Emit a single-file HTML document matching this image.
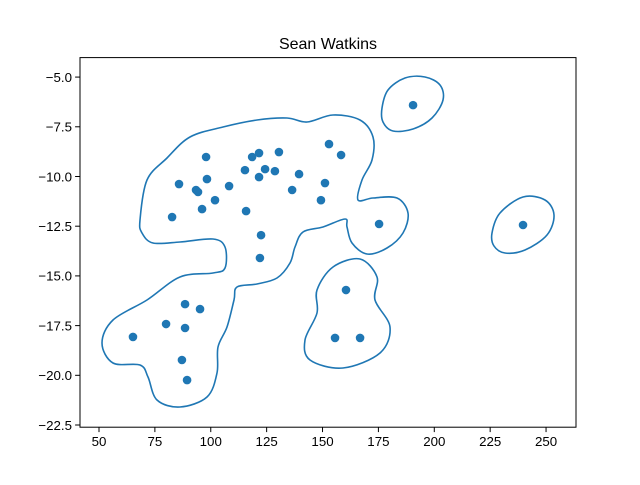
<!DOCTYPE html>
<html><head><meta charset="utf-8"><style>
body{margin:0;background:#fff}
svg text{font-family:"Liberation Sans","DejaVu Sans",sans-serif}
</style></head><body>
<svg id="chart" width="640" height="480" xmlns="http://www.w3.org/2000/svg">
<rect width="640" height="480" fill="#fff"/>
<text x="328" y="49" text-anchor="middle" font-size="16">Sean Watkins</text>
<g id="contours"></g>
<g id="points"></g>
<g id="axes"></g>
<rect x="80" y="57.6" width="496" height="369.6" fill="none" stroke="#000" stroke-width="1"/>
</svg>
<script>
const xs=[65.2,80,88.5,88.5,87.1,89.4,95.2,82.7,85.8,93.4,94.3,96.1,98.3,97.9,101.9,108.2,115.3,115.8,118.5,121.6,121.6,124.3,122.5,122,128.7,130.5,136.4,139.5,149.3,151.1,152.9,158.3,160.5,155.6,166.8,175.3,190.5,239.7];
const ys=[-18.07,-17.42,-16.42,-17.62,-19.23,-20.24,-16.67,-12.04,-10.38,-10.68,-10.78,-11.64,-10.13,-9.02,-11.19,-10.48,-9.68,-11.74,-9.02,-8.82,-10.03,-9.63,-12.95,-14.10,-9.73,-8.77,-10.68,-9.88,-11.19,-10.33,-8.37,-8.92,-15.71,-18.12,-18.12,-12.39,-6.41,-12.44];
const xTicks=[50,75,100,125,150,175,200,225,250];
const yTicks=[-5.0,-7.5,-10.0,-12.5,-15.0,-17.5,-20.0,-22.5];
const contourShapes=[
"140,220 147,180 167,158 190,137 223,127 257,120 287,118 307,122 333,115 360,120 373,137 372,160 362,180 358,200 373,198 397,198 408,213 403,233 387,248 367,254 352,243 347,227 345,219 323,227 303,232 295,247 290,263 277,278 257,284 237,287 234,300 227,327 218,347 217,373 207,397 180,407 157,400 148,377 140,365 113,363 102,343 113,320 147,300 180,277 213,273 225,268 225,247 213,239 180,242 153,243 142,233",
"360,259 377,277 375,300 390,327 380,353 343,368 310,360 305,340 317,313 317,290 333,267",
"382,108 388,90 405,78 425,77 440,85 443,100 432,118 413,129 393,131 383,122",
"492,233 500,213 523,197 545,200 554,215 547,235 525,250 505,253 494,246"];
const X0=41.5,X1=263.4,Y0=-22.61,Y1=-4.02;
const L=80,R=576,T=57.6,B=427.2;
const sx=v=>L+(v-X0)/(X1-X0)*(R-L);
const sy=v=>B-(v-Y0)/(Y1-Y0)*(B-T);
const NS="http://www.w3.org/2000/svg";
function mk(t,a,p){const e=document.createElementNS(NS,t);for(const k in a)e.setAttribute(k,a[k]);p.appendChild(e);return e;}
const cg=document.getElementById('contours');
contourShapes.forEach((s,i)=>{
  const p=s.split(' ').map(q=>q.split(',').map(Number));const n=p.length;
  let d=`M${p[0][0]},${p[0][1]}`;
  for(let k=0;k<n;k++){const a=p[(k-1+n)%n],b=p[k],c=p[(k+1)%n],e=p[(k+2)%n];
    d+=`C${b[0]+(c[0]-a[0])/6},${b[1]+(c[1]-a[1])/6} ${c[0]-(e[0]-b[0])/6},${c[1]-(e[1]-b[1])/6} ${c[0]},${c[1]}`;}
  const el=mk('path',{d:d+'Z',fill:'none',stroke:'#1f77b4','stroke-width':1.6},cg);
  
  
});
const pg=document.getElementById('points');
xs.forEach((x,i)=>{
  const c=mk('circle',{cx:sx(x),cy:sy(ys[i]),r:4.3,fill:'#1f77b4'},pg);
  
  
});
const ag=document.getElementById('axes');
xTicks.forEach(v=>{
  const g=mk('g',{},ag);
  
  
  mk('line',{x1:sx(v),x2:sx(v),y1:B,y2:B+4.9,stroke:'#000'},g);
  const t=mk('text',{x:sx(v),y:B+19,'text-anchor':'middle','font-size':13.3},g);t.textContent=v;
});
yTicks.forEach(v=>{
  const g=mk('g',{},ag);
  
  
  mk('line',{x1:L-4.9,x2:L,y1:sy(v),y2:sy(v),stroke:'#000'},g);
  const t=mk('text',{x:L-8,y:sy(v)+4.8,'text-anchor':'end','font-size':13.3},g);t.textContent=v.toFixed(1).replace('-','\u2212');
});
</script>
</body></html>
